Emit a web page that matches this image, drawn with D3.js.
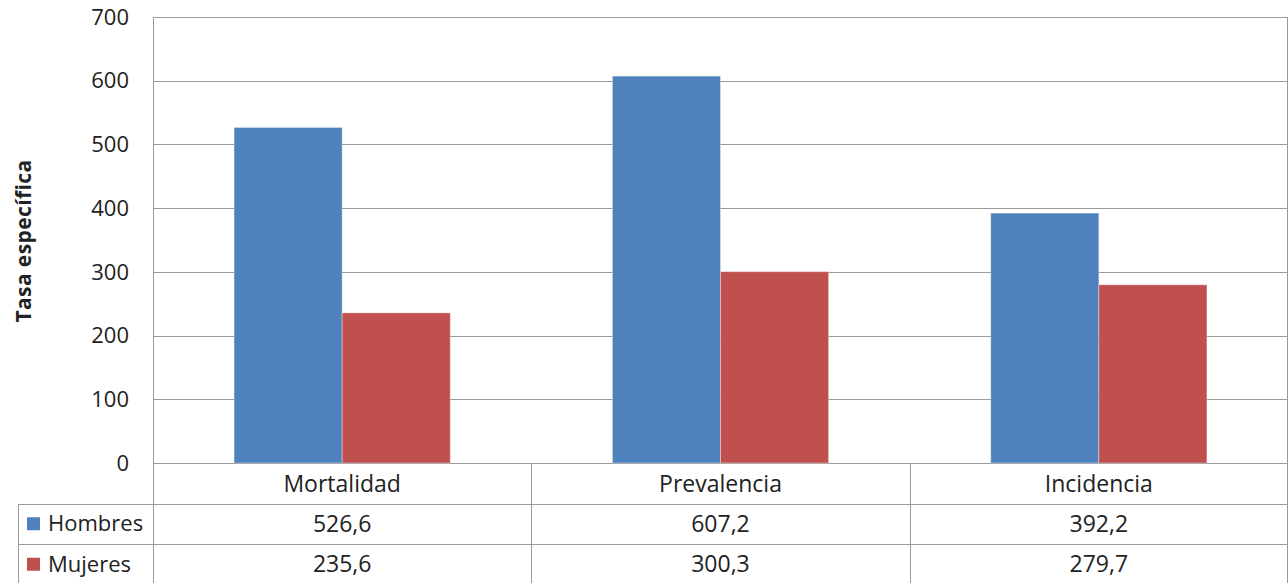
<!DOCTYPE html>
<html>
<head>
<meta charset="utf-8">
<script src="https://cdn.jsdelivr.net/npm/d3@7"></script>
<style>
  html, body { margin: 0; padding: 0; background: #fff; }
  svg { display: block; }
  text { font-family: "Open Sans", "Noto Sans", sans-serif; fill: #222222; }
</style>
</head>
<body>
<svg id="chart" width="1288" height="583"></svg>
<script>
// Tasas específicas por sexo
const categories = ["Mortalidad", "Prevalencia", "Incidencia"];
const seriesNames = ["Hombres", "Mujeres"];
const hombres = [526.6, 607.2, 392.2];
const mujeres = [235.6, 300.3, 279.7];
const yTicks = [0, 100, 200, 300, 400, 500, 600, 700];
const seriesColors = ["#4F81BD", "#C0504D"];

const series = [hombres, mujeres];
const fmt = v => v.toFixed(1).replace(".", ",");

const svg = d3.select("#chart");
const plotLeft = 153, plotRight = 1288, plotTop = 17, plotBottom = 463;
const tableLeft = 18;
const rowH = 40.5;
const gridColor = "#9a9a9a";
const fs = "22px";
const tableFs = "23px";

const x = d3.scaleBand().domain(categories).range([plotLeft, plotRight]).paddingInner(0).paddingOuter(0);
const xs = d3.scaleBand().domain(seriesNames).range([0, x.bandwidth()]).paddingInner(0).paddingOuter(0.75);
const y = d3.scaleLinear().domain([0, 700]).range([plotBottom, plotTop]);

// gridlines
svg.append("g").selectAll("line").data(yTicks).join("line")
  .attr("x1", plotLeft).attr("x2", plotRight)
  .attr("y1", d => Math.round(y(d)) + 0.5).attr("y2", d => Math.round(y(d)) + 0.5)
  .attr("stroke", gridColor).attr("stroke-width", 1);

// y tick labels
svg.append("g").selectAll("text").data(yTicks).join("text")
  .attr("x", 129).attr("y", d => y(d))
  .attr("dy", "0.35em")
  .attr("text-anchor", "end")
  .style("font-size", fs)
  .text(d => d);

// y axis title
svg.append("text")
  .attr("transform", `translate(31, ${241}) rotate(-90)`)
  .attr("text-anchor", "middle")
  .style("font-size", "21px").style("font-weight", "bold")
  .style("letter-spacing", "0.4px")
  .text("Tasa específica");

// bars
const groups = svg.append("g").selectAll("g").data(categories).join("g")
  .attr("transform", d => `translate(${x(d)},0)`);
groups.selectAll("rect").data((c, i) => seriesNames.map((s, j) => ({ s, v: series[j][i], j })))
  .join("rect")
  .attr("x", d => xs(d.s))
  .attr("width", xs.bandwidth())
  .attr("y", d => y(d.v))
  .attr("height", d => y(0) - y(d.v))
  .attr("fill", d => seriesColors[d.j])
  .attr("stroke", "#ffffff").attr("stroke-opacity", 0.35).attr("stroke-width", 1);

// data table lines
const tbl = svg.append("g").attr("stroke", gridColor).attr("stroke-width", 1);
const row1 = plotBottom + rowH, row2 = plotBottom + 2 * rowH, row3 = 583;
tbl.append("line").attr("x1", tableLeft).attr("x2", plotRight).attr("y1", Math.round(row1) + 0.5).attr("y2", Math.round(row1) + 0.5);
tbl.append("line").attr("x1", tableLeft).attr("x2", plotRight).attr("y1", Math.round(row2) + 0.5).attr("y2", Math.round(row2) + 0.5);
tbl.append("line").attr("x1", tableLeft + 0.5).attr("x2", tableLeft + 0.5).attr("y1", Math.round(row1)).attr("y2", row3);
tbl.append("line").attr("x1", plotLeft + 0.5).attr("x2", plotLeft + 0.5).attr("y1", plotTop).attr("y2", row3);
categories.slice(1).forEach(c => {
  tbl.append("line").attr("x1", Math.round(x(c)) + 0.5).attr("x2", Math.round(x(c)) + 0.5)
    .attr("y1", plotBottom).attr("y2", row3);
});
tbl.append("line").attr("x1", plotRight - 0.5).attr("x2", plotRight - 0.5).attr("y1", plotTop).attr("y2", row3);

// category header
svg.append("g").selectAll("text").data(categories).join("text")
  .attr("x", d => x(d) + x.bandwidth() / 2)
  .attr("y", plotBottom + rowH / 2 + 1)
  .attr("dy", "0.35em")
  .attr("text-anchor", "middle")
  .style("font-size", tableFs)
  .text(d => d);

// series rows
seriesNames.forEach((s, j) => {
  const cy = plotBottom + rowH * (j + 1) + rowH / 2;
  svg.append("rect")
    .attr("x", 27).attr("y", cy - 6.5).attr("width", 13).attr("height", 13)
    .attr("fill", seriesColors[j]);
  svg.append("text")
    .attr("x", 48).attr("y", cy).attr("dy", "0.35em")
    .style("font-size", fs)
    .text(s);
  svg.append("g").selectAll("text").data(categories).join("text")
    .attr("x", d => x(d) + x.bandwidth() / 2)
    .attr("y", cy).attr("dy", "0.35em")
    .attr("text-anchor", "middle")
    .style("font-size", tableFs)
    .text((d, i) => fmt(series[j][i]));
});
</script>
</body>
</html>
